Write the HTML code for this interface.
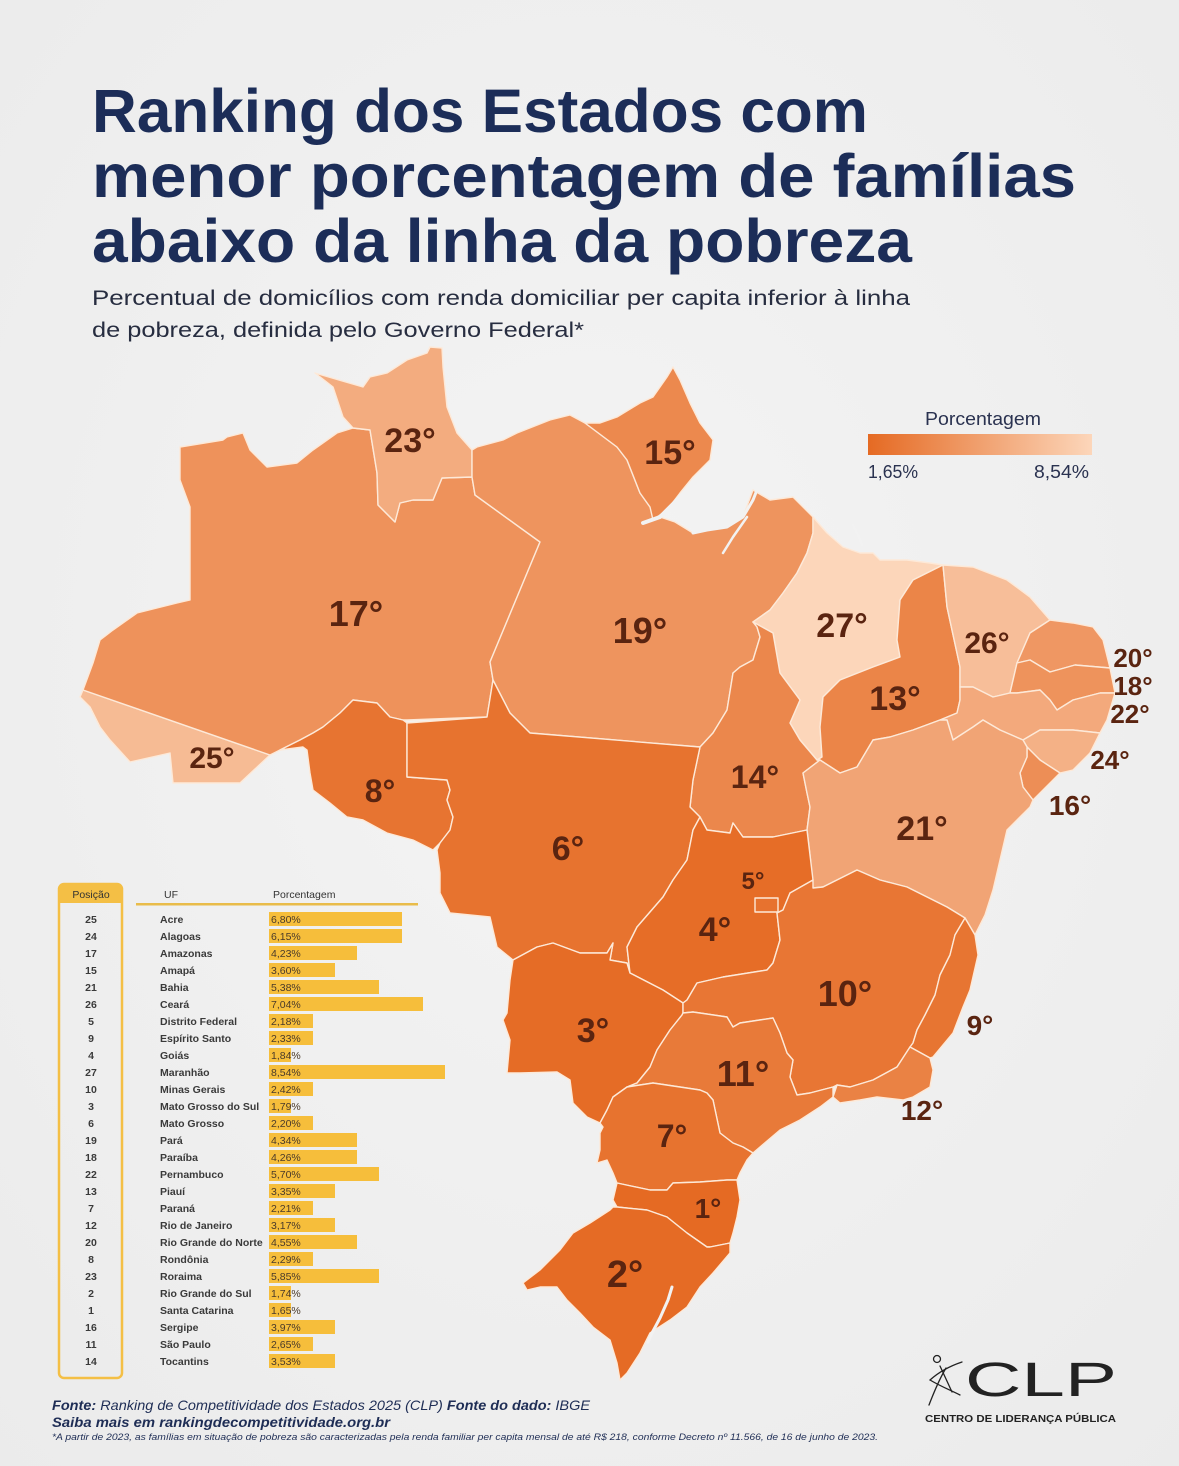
<!DOCTYPE html>
<html><head><meta charset="utf-8">
<style>
html,body{margin:0;padding:0;background:#f0f0f0;}
svg{display:block;}
</style></head>
<body>
<svg width="1179" height="1466" viewBox="0 0 1179 1466" xmlns="http://www.w3.org/2000/svg">
<defs>
<linearGradient id="lg" x1="0" x2="1" y1="0" y2="0">
<stop offset="0" stop-color="#E56A23"/><stop offset="1" stop-color="#FCD6BA"/>
</linearGradient>
<radialGradient id="bg" cx="0.5" cy="0.45" r="0.75">
<stop offset="0" stop-color="#f4f4f4"/><stop offset="1" stop-color="#ebebeb"/>
</radialGradient>
</defs>
<rect width="1179" height="1466" fill="url(#bg)"/>

<!-- Title -->
<g font-family="Liberation Sans, sans-serif" font-weight="bold" fill="#1c2d58" font-size="61">
<text x="92" y="132" textLength="776" lengthAdjust="spacingAndGlyphs">Ranking dos Estados com</text>
<text x="92" y="197" textLength="984" lengthAdjust="spacingAndGlyphs">menor porcentagem de famílias</text>
<text x="92" y="262" textLength="820" lengthAdjust="spacingAndGlyphs">abaixo da linha da pobreza</text>
</g>
<g font-family="Liberation Sans, sans-serif" fill="#272d40" font-size="21">
<text x="92" y="305" textLength="818" lengthAdjust="spacingAndGlyphs">Percentual de domicílios com renda domiciliar per capita inferior à linha</text>
<text x="92" y="337" textLength="492" lengthAdjust="spacingAndGlyphs">de pobreza, definida pelo Governo Federal*</text>
</g>

<!-- Legend -->
<g font-family="Liberation Sans, sans-serif" fill="#2a3250" font-size="18">
<text x="925" y="425" textLength="116" lengthAdjust="spacingAndGlyphs">Porcentagem</text>
<rect x="868" y="434" width="224" height="21" fill="url(#lg)"/>
<text x="868" y="478" textLength="50" lengthAdjust="spacingAndGlyphs">1,65%</text>
<text x="1034" y="478" textLength="55" lengthAdjust="spacingAndGlyphs">8,54%</text>
</g>

<!-- Map -->
<g stroke="#fde9d8" stroke-width="1.4" stroke-linejoin="round">
<polygon fill="#F6BB94" points="83,690 80,697 90,707 100,727 110,740 130,762 170,753 173,783 240,783 270,755"/>
<polygon fill="#EE925B" points="180,447 223,440 227,437 243,433 250,450 267,467 297,463 313,450 337,433 353,428 370,430 377,473 378,505 395,522 400,503 413,500 433,500 442,478 472,477 475,495 540,542 490,662 493,680 487,717 407,720 403,720 390,717 377,703 353,700 340,713 323,727 313,733 300,740 280,750 270,755 83,690 93,663 100,640 113,630 137,613 177,603 190,600 190,507 180,480 180,473"/>
<polygon fill="#F3AC7F" points="315,373 333,387 343,417 353,428 370,430 377,473 378,505 395,522 400,503 413,500 433,500 442,478 472,477 472,450 457,433 447,407 443,367 442,348 430,347 427,353 407,360 387,373 370,377 363,387"/>
<polygon fill="#EE945E" points="472,477 472,450 477,447 503,440 517,433 550,420 570,415 585,423 617,447 627,460 640,493 650,507 660,517 675,522 693,533 707,530 727,527 743,517 753,490 770,500 793,497 813,517 813,533 807,553 797,573 783,593 770,610 753,622 757,627 760,637 753,660 740,667 733,673 727,710 713,733 700,747 530,733 510,713 493,680 490,662 540,542 475,495"/>
<polygon fill="#EC894E" points="585,423 600,423 617,417 640,403 653,397 667,377 673,367 680,380 690,403 700,423 713,440 710,460 693,477 680,493 667,510 653,520 650,507 640,493 627,460 617,447"/>
<polygon fill="#FCD6BA" points="813,517 827,533 843,547 860,553 873,553 880,560 907,560 930,563 943,565 913,580 900,600 897,640 900,657 873,667 840,680 823,697 820,727 822,757 817,760 800,740 790,723 800,700 780,673 773,633 753,622 770,610 783,593 797,573 807,553 813,533"/>
<polygon fill="#EB874C" points="753,622 773,633 780,673 800,700 790,723 800,740 817,760 820,760 803,773 807,793 810,807 807,830 773,837 743,837 733,823 730,833 707,830 700,817 690,807 693,780 700,747 713,733 727,710 733,673 740,667 753,660 760,637 757,627"/>
<polygon fill="#EB8548" points="943,565 947,607 960,667 960,687 960,700 957,713 940,720 913,730 890,737 873,740 857,767 840,773 820,760 817,760 822,757 820,727 823,697 840,680 873,667 900,657 897,640 900,600 913,580"/>
<polygon fill="#F7BE99" points="943,565 973,567 1007,580 1030,597 1050,620 1030,633 1017,663 1010,693 993,697 973,687 960,687 960,667 947,607"/>
<polygon fill="#EF9763" points="1050,620 1073,623 1093,627 1103,640 1110,668 1075,665 1050,672 1030,660 1017,663 1030,633"/>
<polygon fill="#EE935C" points="1017,663 1030,660 1050,672 1075,665 1110,668 1115,693 1100,693 1073,700 1057,710 1050,700 1040,690 1017,693 1010,693"/>
<polygon fill="#F3A97C" points="960,687 973,687 993,697 1010,693 1017,693 1040,690 1050,700 1057,710 1073,700 1100,693 1115,693 1107,720 1100,733 1073,730 1040,730 1023,740 1000,730 983,720 973,727 953,740 947,720 940,720 957,713 960,700"/>
<polygon fill="#F4B186" points="1023,740 1040,730 1073,730 1100,733 1090,753 1073,770 1060,773 1040,760 1027,747"/>
<polygon fill="#ED8E56" points="1027,747 1040,760 1060,773 1040,793 1033,800 1023,787 1020,773 1027,757"/>
<polygon fill="#F1A475" points="820,760 840,773 857,767 873,740 890,737 913,730 940,720 947,720 953,740 973,727 983,720 1000,730 1023,740 1027,747 1027,757 1020,773 1023,787 1033,800 1030,807 1007,830 1000,860 993,890 985,915 975,935 965,918 947,907 907,887 880,880 857,870 823,887 813,888 810,855 807,830 810,807 807,793 803,773"/>
<polygon fill="#E77431" points="280,750 300,740 313,733 323,727 340,713 353,700 377,703 390,717 403,720 407,723 407,777 447,780 450,790 447,800 453,817 450,830 440,843 433,850 413,840 387,833 363,820 347,817 330,803 313,790 310,773 307,750 303,747"/>
<polygon fill="#E7732F" points="407,723 487,717 493,680 510,713 530,733 700,747 693,780 690,807 700,817 693,830 687,860 673,880 663,897 637,927 627,947 630,973 627,963 610,960 613,943 607,953 580,953 553,943 537,947 513,960 497,947 490,917 450,913 440,893 440,873 437,850 440,843 450,830 453,817 447,800 450,790 447,780 407,777"/>
<polygon fill="#E66D27" points="700,817 707,830 730,833 733,823 743,837 773,837 807,830 810,855 813,880 790,893 783,910 777,913 780,940 773,963 767,970 723,977 697,983 687,1000 683,1003 663,990 630,973 627,947 637,927 663,897 673,880 687,860 693,830"/>
<polygon fill="#E7722F" stroke="#fde9d8" points="755,898 778,898 778,912 755,912"/>
<polygon fill="#E56C26" points="513,960 537,947 553,943 580,953 607,953 613,943 610,960 627,963 630,973 663,990 683,1003 683,1013 682,1015 670,1030 657,1050 650,1067 637,1083 627,1087 613,1097 607,1110 600,1123 587,1117 573,1103 570,1080 557,1072 520,1073 507,1073 510,1040 503,1020 507,1013 510,980"/>
<polygon fill="#E87634" points="683,1003 687,1000 697,983 723,977 767,970 773,963 780,940 777,913 783,910 790,893 813,880 813,888 823,887 857,870 880,880 907,887 947,907 965,918 955,935 950,955 940,975 935,995 925,1015 917,1030 913,1043 910,1047 897,1067 873,1080 850,1087 837,1085 833,1087 810,1093 797,1095 790,1077 793,1060 787,1053 780,1033 773,1018 740,1023 733,1027 727,1017 693,1012 683,1013"/>
<polygon fill="#E77532" points="965,918 975,935 978,955 970,990 963,1007 953,1033 933,1057 930,1058 910,1047 913,1043 917,1030 925,1015 935,995 940,975 950,955 955,935"/>
<polygon fill="#EA8244" points="910,1047 930,1058 933,1070 930,1087 913,1097 903,1100 877,1097 860,1100 840,1103 833,1097 837,1085 850,1087 873,1080 897,1067"/>
<polygon fill="#E87A39" points="683,1013 693,1012 727,1017 733,1027 740,1023 773,1018 780,1033 787,1053 793,1060 790,1077 797,1095 810,1093 833,1087 833,1097 820,1107 800,1120 780,1130 760,1147 753,1153 743,1147 733,1143 720,1133 713,1100 707,1093 700,1090 653,1083 627,1087 637,1083 650,1067 657,1050 670,1030 682,1015"/>
<polygon fill="#E7732F" points="627,1087 653,1083 700,1090 707,1093 713,1100 720,1133 733,1143 743,1147 753,1153 747,1160 740,1173 737,1180 727,1180 700,1182 673,1183 667,1190 650,1190 617,1183 613,1173 607,1160 597,1163 600,1150 600,1133 603,1127 600,1123 607,1110 613,1097"/>
<polygon fill="#E56A23" points="617,1183 650,1190 667,1190 673,1183 700,1182 727,1180 737,1180 740,1200 737,1217 733,1233 730,1243 710,1247 707,1247 687,1233 667,1217 647,1210 617,1207 613,1200"/>
<polygon fill="#E56B25" points="613,1207 617,1207 647,1210 667,1217 687,1233 707,1247 710,1247 730,1243 730,1253 713,1273 700,1287 687,1307 670,1320 650,1333 640,1353 627,1373 620,1380 617,1363 610,1340 593,1327 580,1313 567,1300 557,1287 540,1287 527,1290 523,1283 540,1270 560,1250 573,1233 590,1223 610,1210"/>
</g>
<!-- water channels -->
<g fill="none" stroke="#f2f2f2" stroke-linecap="round" stroke-linejoin="round">
<polyline stroke-width="4" points="643,523 660,517 677,500 693,483 710,470"/>
<polyline stroke-width="3" points="693,533 707,530 727,527 743,517 753,500 757,490"/>
<polyline stroke-width="2.5" points="747,517 733,537 723,553"/>
<polyline stroke-width="2" points="853,525 858,535 862,545"/>
<polyline stroke-width="3" points="672,1287 668,1300 660,1318 652,1333 648,1342"/>
</g>

<!-- Map labels -->
<g font-family="Liberation Sans, sans-serif" font-weight="bold" fill="#5a2410" text-anchor="middle">
<text x="410" y="452" font-size="34">23°</text>
<text x="670" y="464" font-size="34">15°</text>
<text x="356" y="626" font-size="36">17°</text>
<text x="640" y="643" font-size="36">19°</text>
<text x="842" y="637" font-size="34">27°</text>
<text x="987" y="653" font-size="30">26°</text>
<text x="895" y="710" font-size="34">13°</text>
<text x="1133" y="667" font-size="26">20°</text>
<text x="1133" y="695" font-size="26">18°</text>
<text x="1130" y="723" font-size="26">22°</text>
<text x="1110" y="769" font-size="26">24°</text>
<text x="1070" y="815" font-size="28">16°</text>
<text x="212" y="768" font-size="30">25°</text>
<text x="380" y="802" font-size="32">8°</text>
<text x="755" y="788" font-size="32">14°</text>
<text x="922" y="840" font-size="34">21°</text>
<text x="568" y="860" font-size="34">6°</text>
<text x="753" y="889" font-size="24">5°</text>
<text x="715" y="941" font-size="34">4°</text>
<text x="845" y="1006" font-size="36">10°</text>
<text x="980" y="1035" font-size="28">9°</text>
<text x="593" y="1042" font-size="34">3°</text>
<text x="743" y="1086" font-size="36">11°</text>
<text x="922" y="1120" font-size="28">12°</text>
<text x="672" y="1147" font-size="32">7°</text>
<text x="708" y="1218" font-size="28">1°</text>
<text x="625" y="1287" font-size="38">2°</text>
</g>

<!-- Table -->
<rect x="59" y="884" width="63" height="494" rx="5" fill="none" stroke="#F4BF45" stroke-width="2.5"/>
<path d="M58,889 a5,5 0 0 1 5,-5 h55 a5,5 0 0 1 5,5 v14 h-65 z" fill="#F4BF45"/>
<rect x="136" y="903" width="282" height="2.5" fill="#E9BC4A"/>
<g font-family="Liberation Sans, sans-serif" font-size="10.5" fill="#333">
<text x="91" y="898" text-anchor="middle">Posição</text>
<text x="164" y="898">UF</text>
<text x="273" y="898">Porcentagem</text>
</g>
<g fill="#F6BE3B">
<rect x="269" y="912" width="133" height="14"/>
<rect x="269" y="929" width="133" height="14"/>
<rect x="269" y="946" width="88" height="14"/>
<rect x="269" y="963" width="66" height="14"/>
<rect x="269" y="980" width="110" height="14"/>
<rect x="269" y="997" width="154" height="14"/>
<rect x="269" y="1014" width="44" height="14"/>
<rect x="269" y="1031" width="44" height="14"/>
<rect x="269" y="1048" width="22" height="14"/>
<rect x="269" y="1065" width="176" height="14"/>
<rect x="269" y="1082" width="44" height="14"/>
<rect x="269" y="1099" width="22" height="14"/>
<rect x="269" y="1116" width="44" height="14"/>
<rect x="269" y="1133" width="88" height="14"/>
<rect x="269" y="1150" width="88" height="14"/>
<rect x="269" y="1167" width="110" height="14"/>
<rect x="269" y="1184" width="66" height="14"/>
<rect x="269" y="1201" width="44" height="14"/>
<rect x="269" y="1218" width="66" height="14"/>
<rect x="269" y="1235" width="88" height="14"/>
<rect x="269" y="1252" width="44" height="14"/>
<rect x="269" y="1269" width="110" height="14"/>
<rect x="269" y="1286" width="22" height="14"/>
<rect x="269" y="1303" width="22" height="14"/>
<rect x="269" y="1320" width="66" height="14"/>
<rect x="269" y="1337" width="44" height="14"/>
<rect x="269" y="1354" width="66" height="14"/>
</g>
<g font-family="Liberation Sans, sans-serif" font-size="10.5" fill="#3a3a3a">
<g text-anchor="middle" font-weight="bold">
<text x="91" y="923">25</text><text x="91" y="940">24</text><text x="91" y="957">17</text><text x="91" y="974">15</text><text x="91" y="991">21</text><text x="91" y="1008">26</text><text x="91" y="1025">5</text><text x="91" y="1042">9</text><text x="91" y="1059">4</text><text x="91" y="1076">27</text><text x="91" y="1093">10</text><text x="91" y="1110">3</text><text x="91" y="1127">6</text><text x="91" y="1144">19</text><text x="91" y="1161">18</text><text x="91" y="1178">22</text><text x="91" y="1195">13</text><text x="91" y="1212">7</text><text x="91" y="1229">12</text><text x="91" y="1246">20</text><text x="91" y="1263">8</text><text x="91" y="1280">23</text><text x="91" y="1297">2</text><text x="91" y="1314">1</text><text x="91" y="1331">16</text><text x="91" y="1348">11</text><text x="91" y="1365">14</text>
</g>
<g font-weight="bold">
<text x="160" y="923">Acre</text><text x="160" y="940">Alagoas</text><text x="160" y="957">Amazonas</text><text x="160" y="974">Amapá</text><text x="160" y="991">Bahia</text><text x="160" y="1008">Ceará</text><text x="160" y="1025">Distrito Federal</text><text x="160" y="1042">Espírito Santo</text><text x="160" y="1059">Goiás</text><text x="160" y="1076">Maranhão</text><text x="160" y="1093">Minas Gerais</text><text x="160" y="1110">Mato Grosso do Sul</text><text x="160" y="1127">Mato Grosso</text><text x="160" y="1144">Pará</text><text x="160" y="1161">Paraíba</text><text x="160" y="1178">Pernambuco</text><text x="160" y="1195">Piauí</text><text x="160" y="1212">Paraná</text><text x="160" y="1229">Rio de Janeiro</text><text x="160" y="1246">Rio Grande do Norte</text><text x="160" y="1263">Rondônia</text><text x="160" y="1280">Roraima</text><text x="160" y="1297">Rio Grande do Sul</text><text x="160" y="1314">Santa Catarina</text><text x="160" y="1331">Sergipe</text><text x="160" y="1348">São Paulo</text><text x="160" y="1365">Tocantins</text>
</g>
<g fill="#4a3a2a">
<text x="271" y="923">6,80%</text><text x="271" y="940">6,15%</text><text x="271" y="957">4,23%</text><text x="271" y="974">3,60%</text><text x="271" y="991">5,38%</text><text x="271" y="1008">7,04%</text><text x="271" y="1025">2,18%</text><text x="271" y="1042">2,33%</text><text x="271" y="1059">1,84%</text><text x="271" y="1076">8,54%</text><text x="271" y="1093">2,42%</text><text x="271" y="1110">1,79%</text><text x="271" y="1127">2,20%</text><text x="271" y="1144">4,34%</text><text x="271" y="1161">4,26%</text><text x="271" y="1178">5,70%</text><text x="271" y="1195">3,35%</text><text x="271" y="1212">2,21%</text><text x="271" y="1229">3,17%</text><text x="271" y="1246">4,55%</text><text x="271" y="1263">2,29%</text><text x="271" y="1280">5,85%</text><text x="271" y="1297">1,74%</text><text x="271" y="1314">1,65%</text><text x="271" y="1331">3,97%</text><text x="271" y="1348">2,65%</text><text x="271" y="1365">3,53%</text>
</g>
</g>

<!-- Footer -->
<g font-family="Liberation Sans, sans-serif" font-style="italic" fill="#1e2d55">
<text x="52" y="1410" font-size="14" textLength="538" lengthAdjust="spacingAndGlyphs"><tspan font-weight="bold">Fonte:</tspan> Ranking de Competitividade dos Estados 2025 (CLP) <tspan font-weight="bold">Fonte do dado:</tspan> IBGE</text>
<text x="52" y="1427" font-size="14" font-weight="bold" textLength="338" lengthAdjust="spacingAndGlyphs">Saiba mais em rankingdecompetitividade.org.br</text>
<text x="52" y="1440" font-size="9" textLength="826" lengthAdjust="spacingAndGlyphs">*A partir de 2023, as famílias em situação de pobreza são caracterizadas pela renda familiar per capita mensal de até R$ 218, conforme Decreto nº 11.566, de 16 de junho de 2023.</text>
</g>

<!-- Logo -->
<g fill="none" stroke="#222" stroke-width="1.3" stroke-linecap="round">
<circle cx="937" cy="1359" r="3.5"/>
<path d="M962,1362 C950,1366 940,1371 930,1380 C940,1386 950,1390 960,1395"/>
<path d="M946,1368 C940,1378 934,1392 929,1405"/>
<path d="M940,1366 L952,1392"/>
</g>
<text x="965" y="1396" font-family="Liberation Sans, sans-serif" font-size="48" fill="#222" textLength="152" lengthAdjust="spacingAndGlyphs">CLP</text>
<text x="925" y="1422" font-family="Liberation Sans, sans-serif" font-size="10" font-weight="bold" fill="#222" textLength="191" lengthAdjust="spacingAndGlyphs">CENTRO DE LIDERANÇA PÚBLICA</text>
</svg>
</body></html>
